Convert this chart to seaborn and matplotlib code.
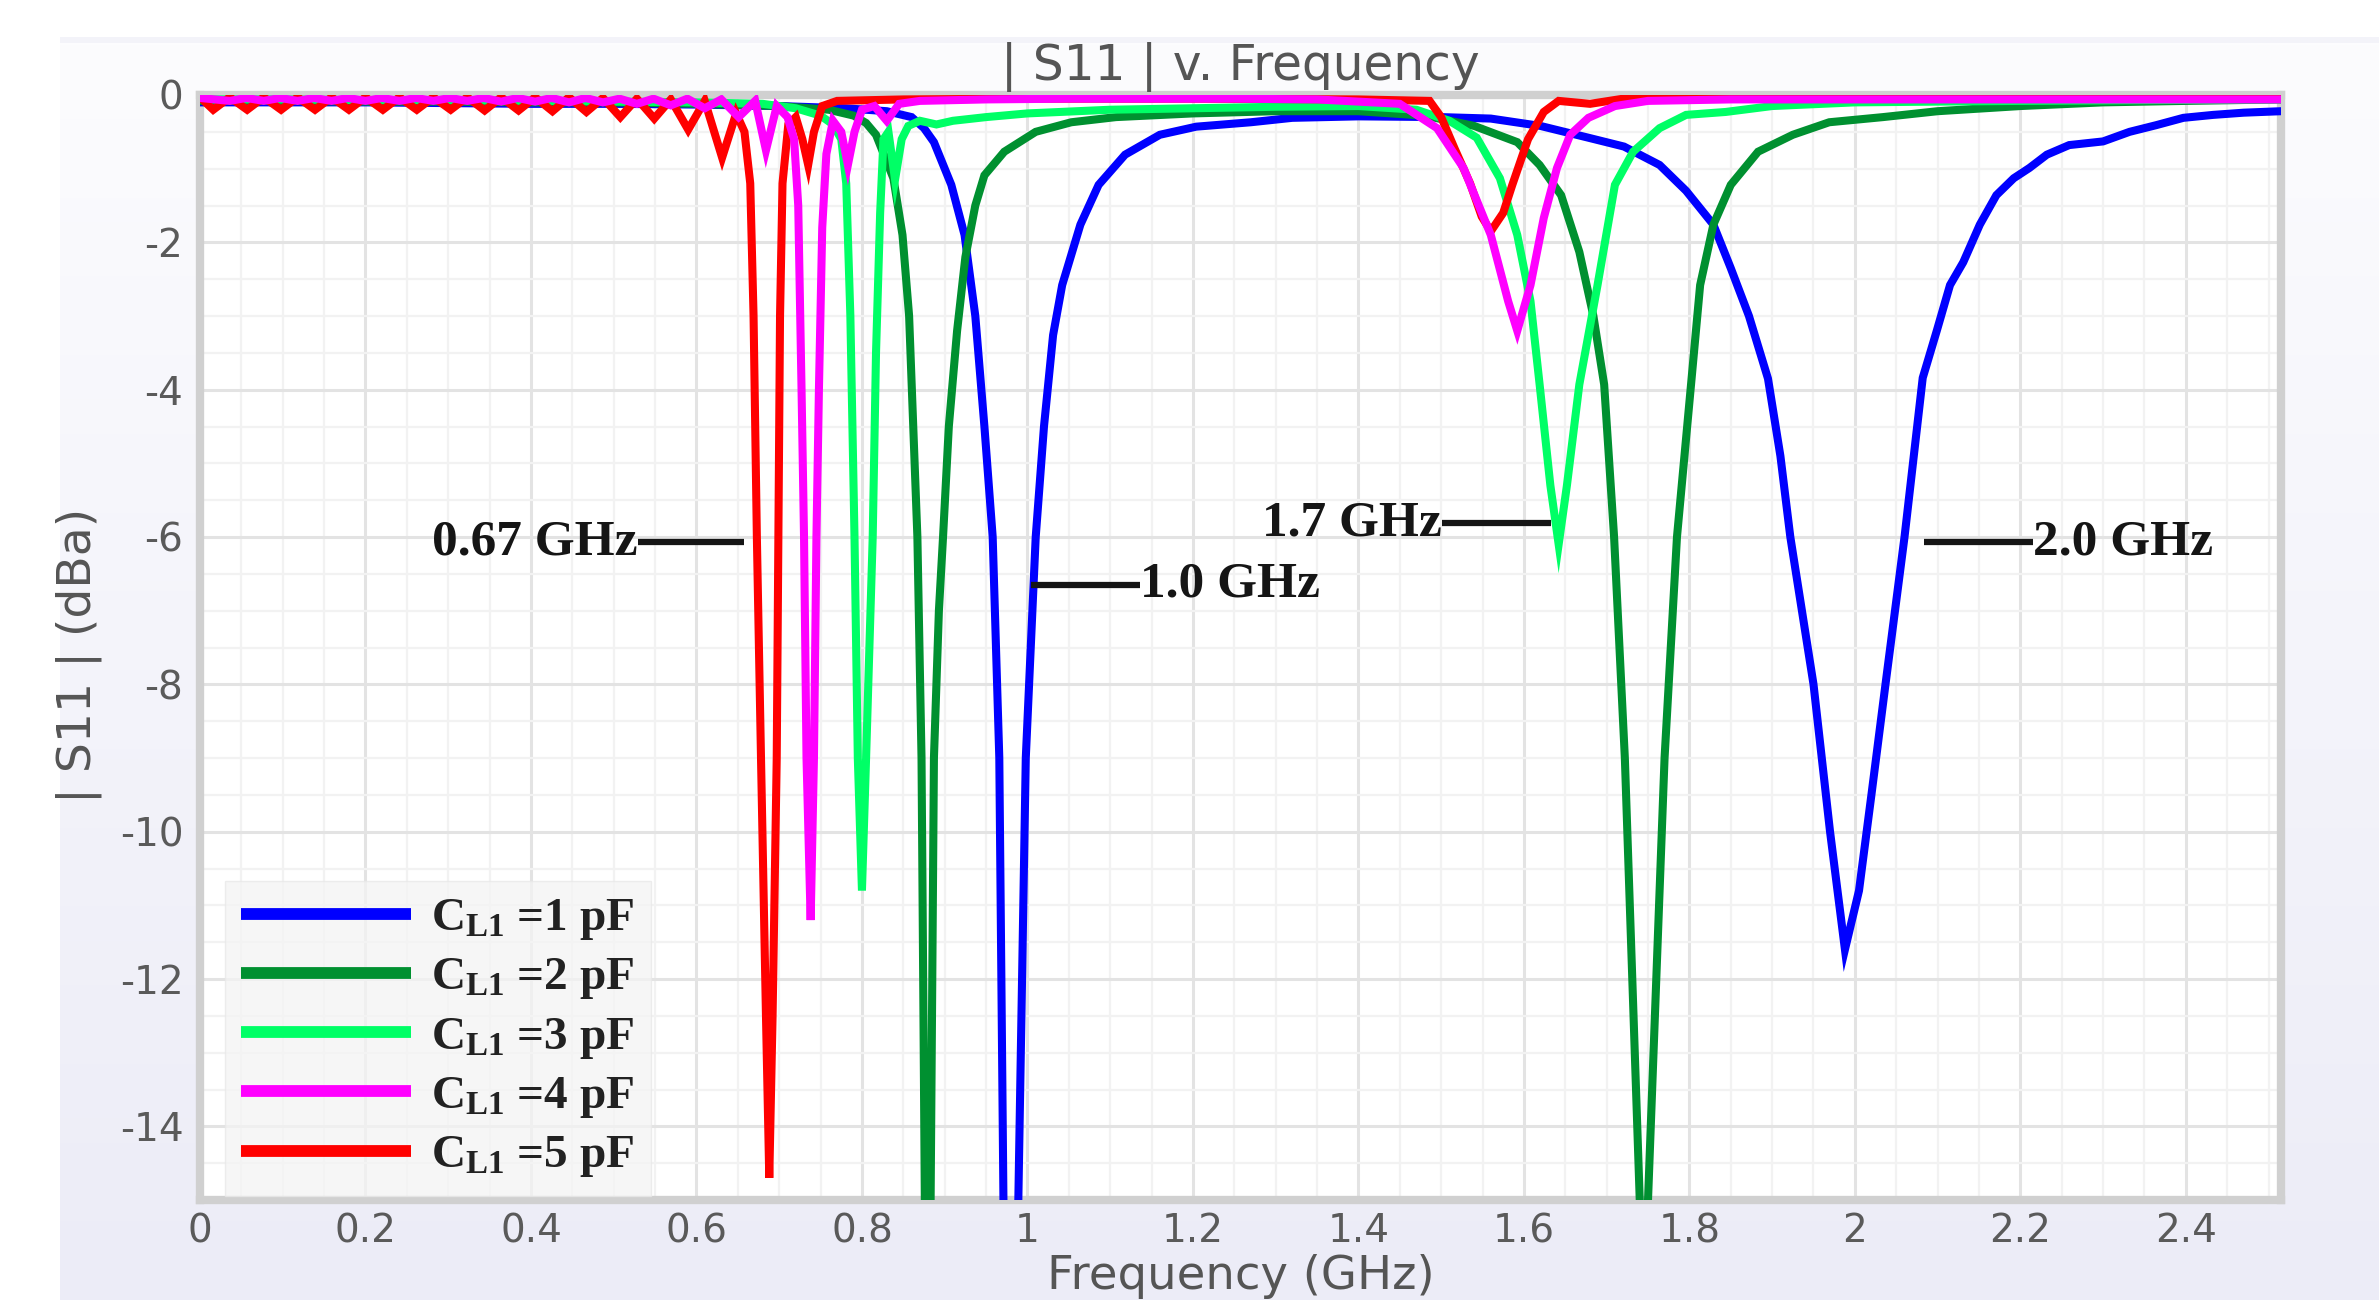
import numpy as np
import pandas as pd
import matplotlib
matplotlib.use("Agg")
import matplotlib.pyplot as plt
import seaborn as sns
from matplotlib.ticker import MultipleLocator, FuncFormatter
from matplotlib.lines import Line2D
from matplotlib.colors import LinearSegmentedColormap
from matplotlib.patches import Rectangle

# ---------------- data ----------------
series_labels = [r"C$_{\mathrm{L1}}$ =1 pF", r"C$_{\mathrm{L1}}$ =2 pF", r"C$_{\mathrm{L1}}$ =3 pF",
                 r"C$_{\mathrm{L1}}$ =4 pF", r"C$_{\mathrm{L1}}$ =5 pF"]
series_colors = ["#0000FF", "#009030", "#00FF66", "#FF00FF", "#FF0000"]
series_layer = [3.0, 3.1, 3.2, 3.4, 3.3]   # magenta drawn over red, as in the picture

freq_c1 = [0.00, 0.10, 0.20, 0.30, 0.40, 0.50, 0.60, 0.70, 0.78, 0.83, 0.86, 0.875, 0.887, 0.908, 0.924,
           0.937, 0.948, 0.958, 0.966, 0.971, 0.980, 0.989, 0.998, 1.010, 1.020, 1.031, 1.042, 1.064, 1.086,
           1.118, 1.160, 1.204, 1.270, 1.320, 1.400, 1.500, 1.560, 1.620, 1.678, 1.721, 1.764, 1.796, 1.829,
           1.850, 1.872, 1.895, 1.910, 1.922, 1.950, 1.970, 1.988, 2.005, 2.020, 2.037, 2.060, 2.082, 2.099,
           2.115, 2.131, 2.151, 2.171, 2.192, 2.211, 2.232, 2.259, 2.300, 2.332, 2.364, 2.397, 2.433, 2.470, 2.515]
s11_c1 = [-0.10, -0.10, -0.10, -0.11, -0.12, -0.12, -0.13, -0.15, -0.18, -0.22, -0.30, -0.45, -0.64, -1.22, -1.90,
          -3.00, -4.50, -6.00, -9.00, -15.0, -22.0, -15.0, -9.00, -6.00, -4.50, -3.26, -2.58, -1.76, -1.22,
          -0.81, -0.54, -0.43, -0.37, -0.31, -0.29, -0.30, -0.32, -0.42, -0.58, -0.70, -0.95, -1.30, -1.76,
          -2.35, -3.00, -3.85, -4.90, -6.00, -8.00, -10.0, -11.6, -10.8, -9.50, -8.00, -6.00, -3.84, -3.20,
          -2.58, -2.27, -1.76, -1.36, -1.13, -0.99, -0.81, -0.68, -0.63, -0.50, -0.41, -0.31, -0.27, -0.24, -0.22]

freq_c2 = [0.00, 0.10, 0.20, 0.30, 0.40, 0.50, 0.60, 0.70, 0.76, 0.79, 0.805, 0.817, 0.838, 0.849, 0.857, 0.862,
           0.867, 0.872, 0.876, 0.879, 0.883, 0.887, 0.893, 0.898, 0.905, 0.915, 0.925, 0.937, 0.948, 0.972,
           1.010, 1.053, 1.107, 1.200, 1.300, 1.400, 1.480, 1.540, 1.592, 1.619, 1.645, 1.667, 1.684, 1.697,
           1.709, 1.722, 1.740, 1.745, 1.750, 1.770, 1.785, 1.802, 1.813, 1.829, 1.850, 1.883, 1.925, 1.969,
           2.034, 2.100, 2.200, 2.300, 2.400, 2.515]
s11_c2 = [-0.08, -0.08, -0.09, -0.09, -0.10, -0.10, -0.12, -0.15, -0.20, -0.28, -0.38, -0.54, -1.13, -1.90, -3.00, -4.50,
          -6.00, -9.00, -15.0, -24.0, -15.0, -9.00, -7.00, -6.00, -4.50, -3.20, -2.20, -1.50, -1.09, -0.77,
          -0.50, -0.37, -0.30, -0.25, -0.22, -0.22, -0.28, -0.42, -0.64, -0.95, -1.36, -2.13, -3.00, -3.93,
          -6.00, -9.00, -15.0, -22.0, -15.0, -9.00, -6.00, -3.93, -2.58, -1.76, -1.22, -0.77, -0.54, -0.37,
          -0.30, -0.22, -0.15, -0.10, -0.08, -0.06]

freq_c3 = [0.00, 0.10, 0.20, 0.30, 0.40, 0.50, 0.60, 0.68, 0.72, 0.75, 0.765, 0.775, 0.781, 0.786, 0.791, 0.795,
           0.800, 0.805, 0.809, 0.813, 0.817, 0.822, 0.826, 0.832, 0.840, 0.848, 0.856, 0.870, 0.890, 0.910,
           0.950, 1.000, 1.100, 1.200, 1.300, 1.400, 1.470, 1.510, 1.543, 1.571, 1.592, 1.608, 1.619, 1.632,
           1.642, 1.652, 1.667, 1.689, 1.710, 1.732, 1.764, 1.796, 1.844, 1.900, 2.000, 2.200, 2.515]
s11_c3 = [-0.06, -0.06, -0.07, -0.07, -0.08, -0.09, -0.10, -0.12, -0.18, -0.28, -0.40, -0.60, -1.20, -3.00, -6.00, -9.00,
          -10.8, -9.00, -7.50, -6.00, -3.50, -1.60, -0.60, -0.50, -1.15, -0.60, -0.42, -0.35, -0.40, -0.35,
          -0.30, -0.25, -0.20, -0.18, -0.16, -0.15, -0.20, -0.35, -0.58, -1.13, -1.90, -2.80, -3.93, -5.30,
          -6.10, -5.30, -3.93, -2.58, -1.22, -0.77, -0.45, -0.27, -0.23, -0.15, -0.10, -0.08, -0.06]

freq_c4 = [0.000, 0.036, 0.056, 0.077, 0.097, 0.118, 0.138, 0.159, 0.179, 0.200, 0.220, 0.241, 0.261, 0.282,
           0.302, 0.323, 0.343, 0.364, 0.384, 0.405, 0.425, 0.446, 0.466, 0.487, 0.507, 0.528, 0.548, 0.569,
           0.589, 0.610, 0.630, 0.651, 0.671, 0.684, 0.697, 0.710, 0.718, 0.723, 0.727, 0.730, 0.733, 0.738,
           0.742, 0.745, 0.748, 0.752, 0.757, 0.765, 0.775, 0.783, 0.791, 0.800, 0.815, 0.830, 0.845, 0.870,
           0.950, 1.050, 1.150, 1.250, 1.350, 1.450, 1.495, 1.527, 1.560, 1.581, 1.592, 1.608, 1.624, 1.640,
           1.656, 1.678, 1.710, 1.750, 1.850, 1.950, 2.050, 2.150, 2.250, 2.350, 2.450, 2.515]
s11_c4 = [-0.04, -0.08, -0.04, -0.08, -0.04, -0.08, -0.04, -0.08, -0.04, -0.08, -0.04, -0.08, -0.04, -0.08,
          -0.04, -0.08, -0.04, -0.09, -0.04, -0.09, -0.04, -0.10, -0.04, -0.10, -0.05, -0.12, -0.05, -0.14,
          -0.05, -0.18, -0.06, -0.30, -0.08, -0.75, -0.15, -0.30, -0.60, -1.50, -4.00, -6.00, -9.00, -11.2,
          -9.00, -6.00, -4.00, -1.80, -0.80, -0.35, -0.50, -0.95, -0.50, -0.20, -0.15, -0.35, -0.12, -0.08,
          -0.06, -0.05, -0.05, -0.05, -0.06, -0.12, -0.45, -0.99, -1.90, -2.80, -3.20, -2.58, -1.67, -0.99,
          -0.54, -0.31, -0.15, -0.08, -0.06, -0.06, -0.06, -0.06, -0.06, -0.06, -0.06, -0.06]

freq_c5 = [0.000, 0.016, 0.036, 0.057, 0.077, 0.098, 0.118, 0.139, 0.159, 0.180, 0.200, 0.221, 0.241, 0.262,
           0.282, 0.303, 0.323, 0.344, 0.364, 0.385, 0.405, 0.426, 0.446, 0.467, 0.487, 0.508, 0.528, 0.549,
           0.569, 0.590, 0.610, 0.631, 0.648, 0.658, 0.665, 0.669, 0.673, 0.678, 0.684, 0.688, 0.692, 0.697,
           0.699, 0.701, 0.704, 0.711, 0.720, 0.728, 0.735, 0.742, 0.752, 0.770, 0.850, 1.000, 1.200, 1.400,
           1.486, 1.500, 1.516, 1.535, 1.549, 1.560, 1.575, 1.586, 1.605, 1.624, 1.642, 1.680, 1.720, 1.800,
           2.000, 2.200, 2.400, 2.515]
s11_c5 = [-0.03, -0.20, -0.03, -0.20, -0.03, -0.20, -0.03, -0.20, -0.03, -0.20, -0.03, -0.20, -0.03, -0.20,
          -0.03, -0.20, -0.03, -0.21, -0.03, -0.21, -0.03, -0.22, -0.03, -0.23, -0.04, -0.30, -0.05, -0.32,
          -0.06, -0.47, -0.08, -0.85, -0.25, -0.50, -1.20, -3.00, -6.00, -9.00, -12.5, -14.7, -12.5, -9.00,
          -6.00, -3.00, -1.20, -0.40, -0.30, -0.60, -0.95, -0.50, -0.15, -0.08, -0.06, -0.05, -0.05, -0.06,
          -0.08, -0.30, -0.72, -1.20, -1.65, -1.85, -1.60, -1.22, -0.60, -0.23, -0.08, -0.12, -0.05, -0.05,
          -0.05, -0.05, -0.05, -0.05]

freq_lists = [freq_c1, freq_c2, freq_c3, freq_c4, freq_c5]
s11_lists = [s11_c1, s11_c2, s11_c3, s11_c4, s11_c5]

ann_texts = ["0.67 GHz", "1.0 GHz", "1.7 GHz", "2.0 GHz"]
ann_y = [-6.07, -6.65, -5.81, -6.07]
ann_x0 = [0.529, 1.004, 1.501, 2.084]
ann_x1 = [0.657, 1.136, 1.633, 2.215]
ann_side = ["left", "right", "left", "right"]

x_ticks = [0, 0.2, 0.4, 0.6, 0.8, 1.0, 1.2, 1.4, 1.6, 1.8, 2.0, 2.2, 2.4]
y_ticks = [0, -2, -4, -6, -8, -10, -12, -14]

title_text = "| S11 | v. Frequency"
xlabel_text = "Frequency (GHz)"
ylabel_text = "| S11 | (dBa)"

# ---------------- build frame ----------------
frames = []
for lab, fr, sv in zip(series_labels, freq_lists, s11_lists):
    frames.append(pd.DataFrame({"freq": fr, "s11": sv, "series": lab}))
df = pd.concat(frames, ignore_index=True)

# ---------------- style ----------------
plt.rcParams["font.family"] = ["DejaVu Sans"]
plt.rcParams["axes.unicode_minus"] = False
plt.rcParams["mathtext.fontset"] = "custom"
plt.rcParams["mathtext.rm"] = "Liberation Serif:bold"
plt.rcParams["mathtext.it"] = "Liberation Serif:bold"
plt.rcParams["mathtext.bf"] = "Liberation Serif:bold"

W, H = 2379, 1300
fig = plt.figure(figsize=(W / 100, H / 100), dpi=100)
fig.patch.set_facecolor("white")

# soft lavender backdrop
bg = fig.add_axes([60 / W, 0, 1 - 60 / W, (H - 40) / H])
grad = np.linspace(0, 1, 256).reshape(-1, 1)
cmap = LinearSegmentedColormap.from_list("bgc", ["#ECECF7", "#FCFCFE"])
bg.imshow(grad, aspect="auto", cmap=cmap, origin="lower", extent=[0, 1, 0, 1])
bg.axis("off")
bg.set_zorder(-10)
fig.patches.append(Rectangle((60 / W, (H - 43) / H), 1, 6 / H, transform=fig.transFigure,
                             facecolor="#F3F3F9", edgecolor="none", zorder=-5))

ax = fig.add_axes([200 / W, 1 - 1200 / H, (2281 - 200) / W, (1200 - 95) / H])
ax.set_facecolor("white")

palette = dict(zip(series_labels, series_colors))
sns.lineplot(data=df, x="freq", y="s11", hue="series", hue_order=series_labels, palette=palette,
             sort=False, estimator=None, linewidth=5.8, legend=False, ax=ax)
for ln, z in zip(ax.lines, series_layer):
    ln.set_zorder(z)
    ln.set_solid_joinstyle("miter")

ax.set_xlim(0, 2.515)
ax.set_ylim(-15, 0)
ax.set_xticks(x_ticks)
ax.set_yticks(y_ticks)
ax.xaxis.set_minor_locator(MultipleLocator(0.05))
ax.yaxis.set_minor_locator(MultipleLocator(0.5))
ax.xaxis.set_major_formatter(FuncFormatter(lambda v, p: f"{v:g}"))
ax.yaxis.set_major_formatter(FuncFormatter(lambda v, p: f"{v:g}" if abs(v) > 1e-9 else "0"))
ax.grid(which="major", color="#E3E3E3", linewidth=2.2, zorder=0)
ax.grid(which="minor", color="#F2F2F2", linewidth=1.6, zorder=0)
ax.set_axisbelow(True)
ax.tick_params(which="both", length=0)
ax.tick_params(axis="x", labelsize=28, labelcolor="#5a5a5a", pad=9)
ax.tick_params(axis="y", labelsize=28, labelcolor="#5a5a5a", pad=12)
for sp in ax.spines.values():
    sp.set_color("#D0D0D0")
    sp.set_linewidth(6)

ax.set_xlabel(xlabel_text, fontsize=33.5, color="#555555", va="top")
ax.xaxis.set_label_coords(0.5, -0.049)
ax.set_ylabel(ylabel_text, fontsize=34, color="#555555")
ax.yaxis.set_label_coords(-0.047, 0.493)
ax.text(0.5, 1.0136, title_text, transform=ax.transAxes, ha="center", va="baseline",
        fontsize=35, color="#555555")

# annotations
for txt, yv, x0, x1, side in zip(ann_texts, ann_y, ann_x0, ann_x1, ann_side):
    ax.hlines(yv, x0, x1, color="#151515", linewidth=4.5, zorder=5)
    if side == "left":
        ax.text(x0, yv, txt, ha="right", va="center", fontsize=37, fontweight="bold",
                family="Liberation Serif", color="#151515", zorder=5)
    else:
        ax.text(x1, yv, txt, ha="left", va="center", fontsize=37, fontweight="bold",
                family="Liberation Serif", color="#151515", zorder=5)

handles = [Line2D([], [], color=c, linewidth=8.5, solid_capstyle="butt") for c in series_colors]
leg = ax.legend(handles, series_labels, loc="lower left", bbox_to_anchor=(0.012, 0.004),
                borderaxespad=0, prop={"family": "Liberation Serif", "weight": "bold", "size": 34},
                handlelength=3.6, handletextpad=0.42, labelspacing=0.3, borderpad=0.35,
                frameon=True, fancybox=False, facecolor="#F4F4F4", edgecolor="#E8E8E8", framealpha=0.75)
for t in leg.get_texts():
    t.set_color("#222222")
leg.set_zorder(6)

fig.savefig("out.png", dpi=100)
